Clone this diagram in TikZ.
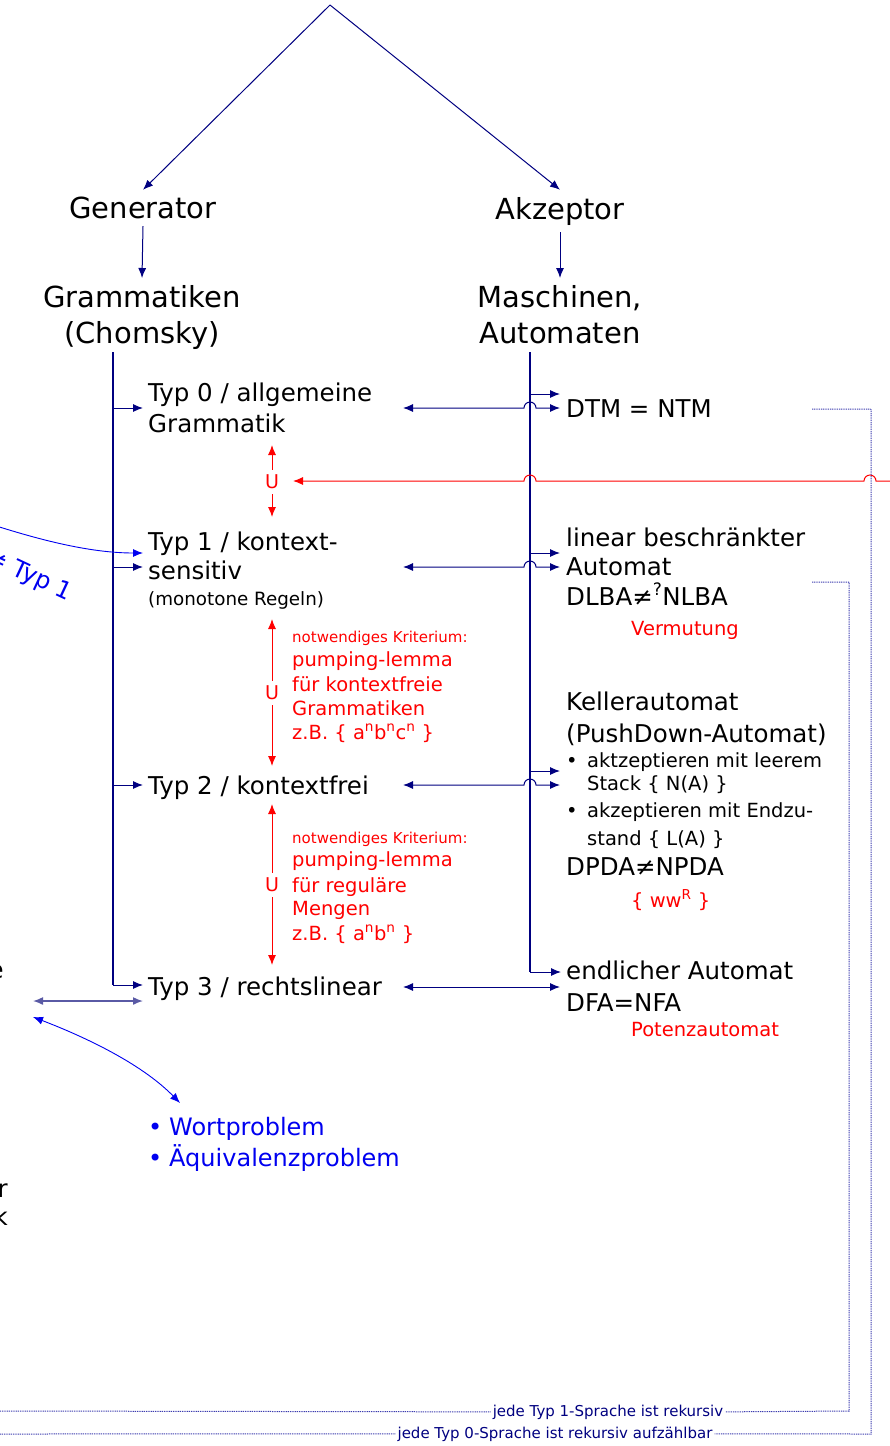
\documentclass[tikz,border=0pt]{standalone}
\usepackage{fontspec}
\setmainfont{DejaVu Sans}
\usetikzlibrary{arrows.meta}
\definecolor{navy}{RGB}{0,0,128}
\definecolor{hellnavy}{RGB}{90,90,165}
\definecolor{punktblau}{RGB}{60,60,175}
\definecolor{blau}{RGB}{0,0,240}

\begin{document}
\begin{tikzpicture}[x=1pt,y=-1pt,
    titel/.style={font=\fontsize{29}{36}\selectfont, inner xsep=0pt, inner ysep=7pt},
    zeile/.style={font=\fontsize{24.5}{30}\selectfont, anchor=base west, inner sep=0pt},
    mittel/.style={font=\fontsize{19.5}{24}\selectfont, anchor=base west, inner sep=0pt},
    klein/.style={font=\fontsize{15}{18}\selectfont, anchor=base west, inner sep=0pt},
    linie/.style={navy, line width=1.4pt},
    ast/.style={navy, line width=1pt, -{Latex[length=10pt,width=8pt]}},
    beide/.style={navy, line width=1pt, {Latex[length=10pt,width=8pt]}-{Latex[length=10pt,width=8pt]}},
    rotpfeil/.style={red, line width=1pt, -{Latex[length=10pt,width=8pt]}},
    teil/.style={text=red, font=\fontsize{19}{22}\selectfont, inner xsep=0pt, inner ysep=5pt},
    punktlinie/.style={punktblau, line width=1pt, dash pattern=on 1pt off 0.8pt}]
\useasboundingbox (0,0) rectangle (890,1446);

    % Kopf: Generator und Akzeptor
    \coordinate (spitze) at (330,5);
    \node[titel] (gen) at (143,208) {Generator};
    \node[titel] (akz) at (560,211) {Akzeptor};
    \node[titel, anchor=north, align=center] (gram) at (142,278) {Grammatiken\\(Chomsky)};
    \node[titel, anchor=north, align=center] (masch) at (560,278) {Maschinen,\\Automaten};
    \draw[ast] (spitze) -- (gen.north);
    \draw[ast] (spitze) -- (akz.north);
    \draw[ast] (gen.south) -- (gram.north);
    \draw[ast] (akz.south) -- (masch.north);

    % Grammatiken (links)
    \node[zeile] (t0a) at (148,401) {Typ 0 / allgemeine};
    \node[zeile] (t0b) at (148,432) {Grammatik};
    \node[zeile] (t1a) at (148,550) {Typ 1 / kontext-};
    \node[zeile] (t1b) at (148,579) {sensitiv};
    \node[font=\fontsize{18.3}{22}\selectfont, anchor=base west, inner sep=0pt] (t1c) at (148,605) {(monotone Regeln)};
    \node[zeile] (t2) at (148,794) {Typ 2 / kontextfrei};
    \node[zeile] (t3) at (148,995) {Typ 3 / rechtslinear};

    \coordinate (lo) at (113,352);
    \coordinate (lu) at (113,985);
    \draw[linie] (lo) -- (lu);
    \draw[ast] (lu) -- ([xshift=-5pt]t3.west |- lu);
    \foreach \y in {408,567,785}
        \draw[ast] (113,\y) -- (143,\y);

    % Automaten (rechts)
    \node[zeile] (dtm) at (566,417) {DTM = NTM};
    \node[zeile] (lba1) at (566,546) {linear beschränkter};
    \node[zeile] (lba2) at (566,575) {Automat};
    \node[zeile] (lba3) at (566,605) {DLBA≠\textsuperscript{?}NLBA};
    \node[mittel, text=red] (verm) at (631,635) {Vermutung};
    \node[zeile] (pda1) at (566,710) {Kellerautomat};
    \node[zeile] (pda2) at (566,742) {(PushDown-Automat)};
    \node[mittel] (pda3) at (566,767) {\makebox[21pt][l]{•}aktzeptieren mit leerem};
    \node[mittel] (pda4) at (587,790) {Stack \{ N(A) \}};
    \node[mittel] (pda5) at (566,817) {\makebox[21pt][l]{•}akzeptieren mit Endzu-};
    \node[mittel] (pda6) at (587,845) {stand \{ L(A) \}};
    \node[zeile] (pda7) at (566,875) {DPDA≠NPDA};
    \node[mittel, text=red] (wwr) at (631,907) {\{ ww\textsuperscript{R} \}};
    \node[zeile] (dfa1) at (566,979) {endlicher Automat};
    \node[zeile] (dfa2) at (566,1011) {DFA=NFA};
    \node[mittel, text=red] (pot) at (631,1036) {Potenzautomat};

    \coordinate (ro) at (530,352);
    \coordinate (ru) at (530,972);
    \draw[linie] (ro) -- (ru);
    \draw[ast] (ru) -- ([xshift=-5pt]dfa1.west |- ru);
    \foreach \y in {394,553,771}
        \draw[ast] (530,\y) -- (560,\y);

    % Verbindungen Grammatik <-> Automat (mit Bruecke)
    \foreach \y in {408,567,785}
        \draw[beide] (403,\y) -- (524,\y) arc[start angle=180, end angle=0, radius=6pt] -- (560,\y);
    \draw[beide] (403,987) -- (560,987);

    % echte Teilmengen
    \node[teil] (u1) at (272,482) {U};
    \draw[rotpfeil] (u1.north) -- (272,445);
    \draw[rotpfeil] (u1.south) -- (272,517);
    \node[teil] (u2) at (272,693) {U};
    \draw[rotpfeil] (u2.north) -- (272,619);
    \draw[rotpfeil] (u2.south) -- (272,766);
    \node[teil] (u3) at (272,885) {U};
    \draw[rotpfeil] (u3.north) -- (272,804);
    \draw[rotpfeil] (u3.south) -- (272,965);
    \draw[rotpfeil] (895,481) -- (876,481) arc[start angle=0, end angle=180, radius=6pt]
        -- (536,481) arc[start angle=0, end angle=180, radius=6pt] -- (293,481);

    % Kriterien
    \node[klein, text=red] (k1) at (292,642) {notwendiges Kriterium:};
    \node[mittel, text=red] (k2) at (292,666) {pumping-lemma};
    \node[mittel, text=red] (k3) at (292,691) {für kontextfreie};
    \node[mittel, text=red] (k4) at (292,715) {Grammatiken};
    \node[mittel, text=red] (k5) at (292,739) {z.B. \{ a\textsuperscript{n}b\textsuperscript{n}c\textsuperscript{n} \}};
    \node[klein, text=red] (r1) at (292,843) {notwendiges Kriterium:};
    \node[mittel, text=red] (r2) at (292,866) {pumping-lemma};
    \node[mittel, text=red] (r3) at (292,892) {für reguläre};
    \node[mittel, text=red] (r4) at (292,915) {Mengen};
    \node[mittel, text=red] (r5) at (292,940) {z.B. \{ a\textsuperscript{n}b\textsuperscript{n} \}};

    % Entscheidbarkeit (gepunktet)
    \node[klein, anchor=base, inner xsep=2pt, text=navy] (s1) at (608,1416) {jede Typ 1-Sprache ist rekursiv};
    \node[klein, anchor=base, inner xsep=2pt, text=navy] (s0) at (555,1438) {jede Typ 0-Sprache ist rekursiv aufzählbar};
    \draw[punktlinie] (812,409) -- (871,409) -- (871,1434) -- (s0.east);
    \draw[punktlinie] (s0.west) -- (-5,1434);
    \draw[punktlinie] (812,582) -- (849,582) -- (849,1411) -- (s1.east);
    \draw[punktlinie] (s1.west) -- (-5,1411);

    % linker Rand
    \draw[blau, line width=0.9pt, -{Latex[length=10pt,width=8pt]}] (-10,524) .. controls (40,540) and (90,553) .. (143,553);
    \node[text=blau, font=\fontsize{24}{28}\selectfont, inner sep=0pt, rotate=-25, anchor=base east] (typ1) at (68,601) {≠ Typ 1};
    \node[zeile, anchor=base east] (frage) at (4,978) {e};
    \node[zeile, anchor=base east] (fragr) at (8,1197) {r};
    \node[zeile, anchor=base east] (fragk) at (8,1225) {k};
    \draw[beide, hellnavy, line width=1.5pt] (33,1001) -- ([xshift=-5pt]t3.west |- 0,1001);
    \draw[blau, line width=0.9pt, {Latex[length=10pt,width=8pt]}-{Latex[length=10pt,width=8pt]}] (33,1017) .. controls (80,1035) and (140,1062) .. (180,1103);
    \node[zeile, text=blau, font=\fontsize{24}{30}\selectfont] (wort) at (148,1135) {\makebox[21pt][l]{•}Wortproblem};
    \node[zeile, text=blau, font=\fontsize{24}{30}\selectfont] (aequi) at (148,1166) {\makebox[21pt][l]{•}Äquivalenzproblem};
\end{tikzpicture}
\end{document}
